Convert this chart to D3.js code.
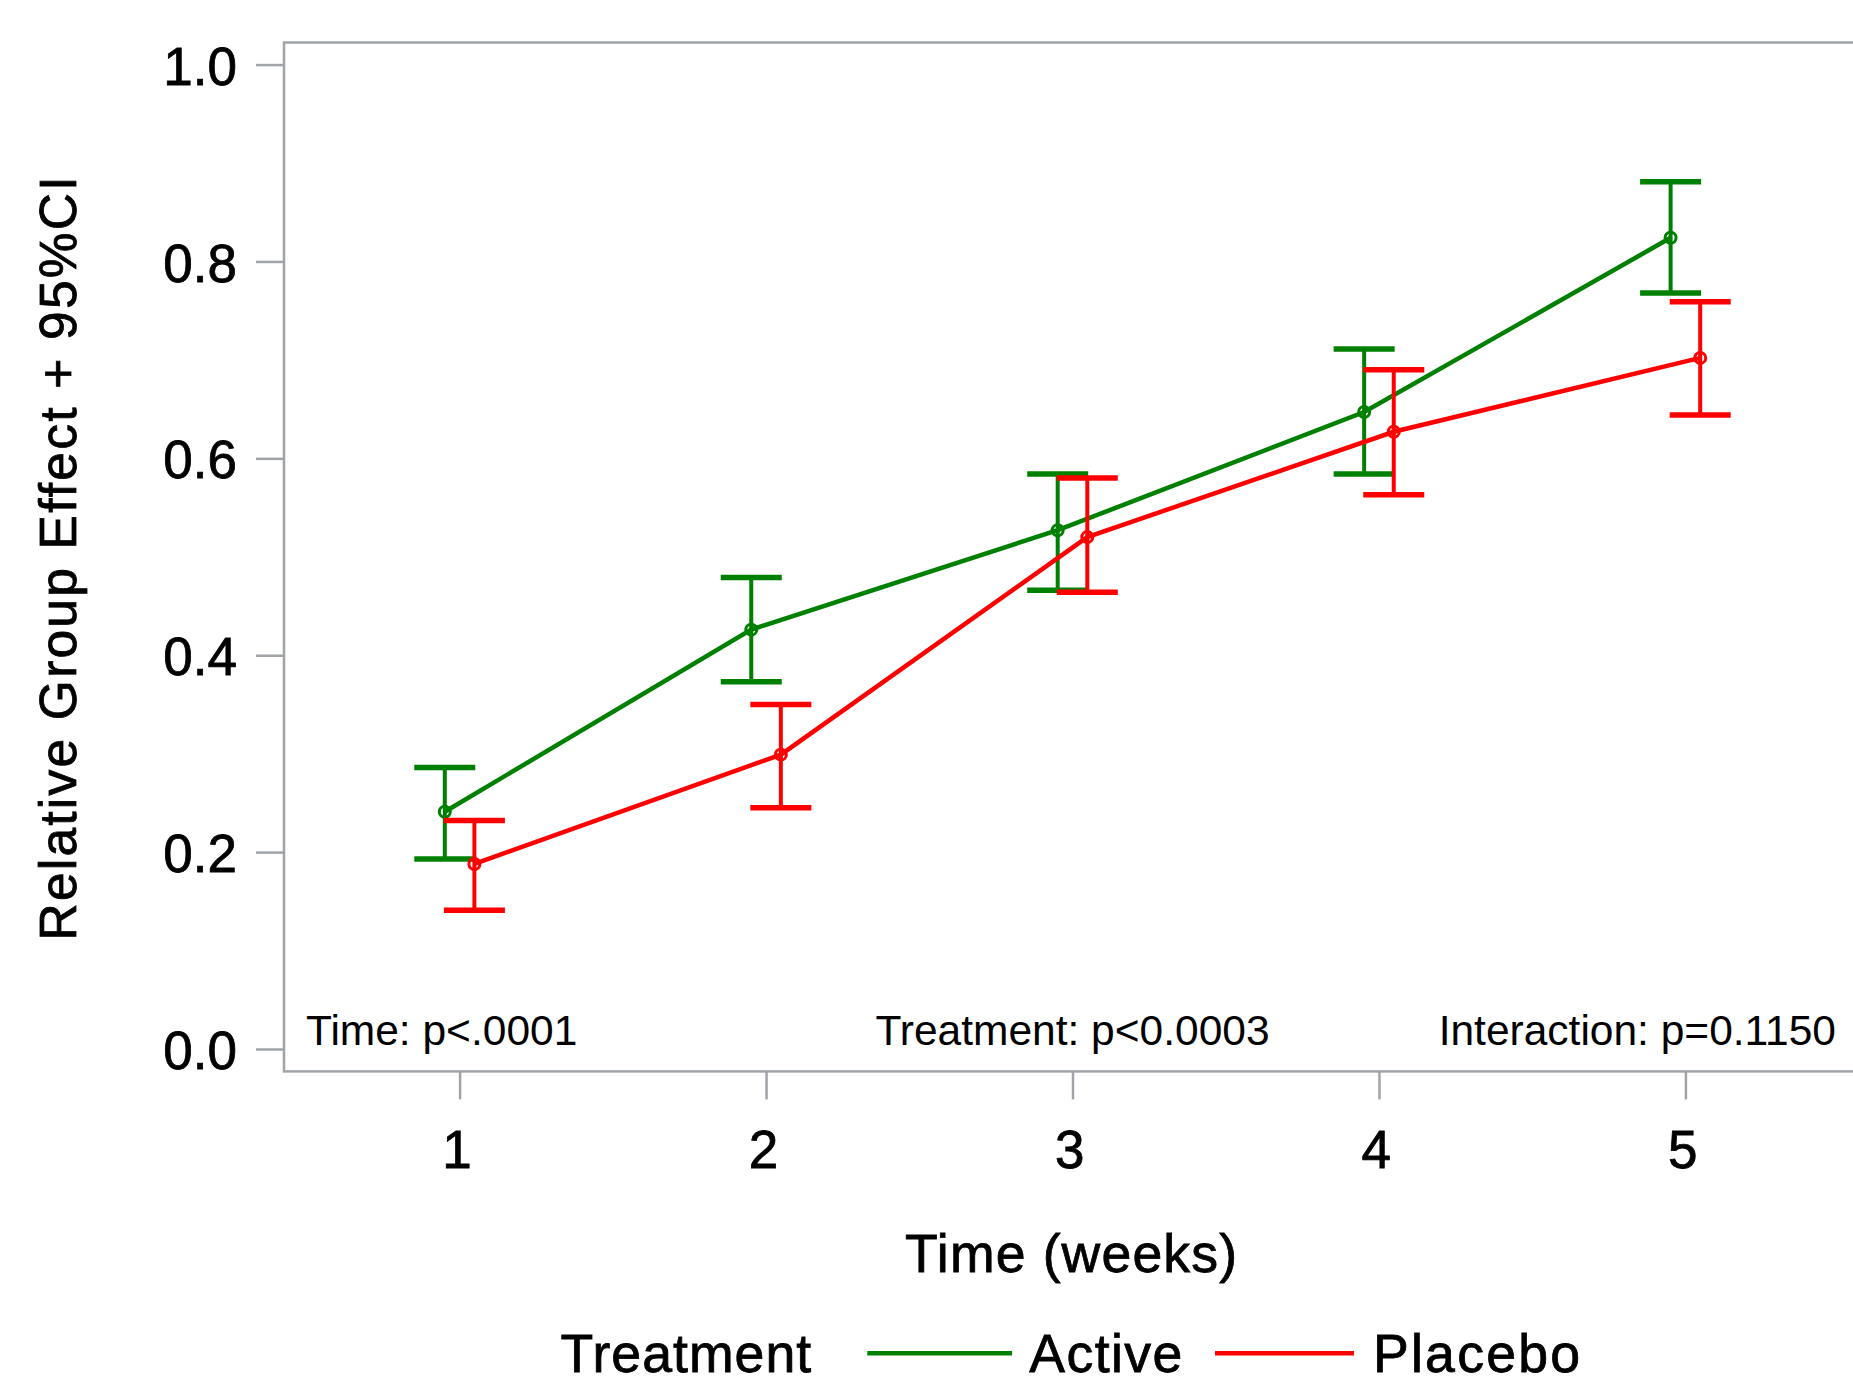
<!DOCTYPE html>
<html>
<head>
<meta charset="utf-8">
<script src="https://cdn.jsdelivr.net/npm/d3@7"></script>
<style>
  html, body { margin: 0; padding: 0; background: #fff; }
  svg { display: block; }
  text { font-family: "Liberation Sans", Arial, sans-serif; fill: #000; }
  .heavy { stroke: #000; stroke-width: 0.8px; }
</style>
</head>
<body>
<svg id="chart" width="1853" height="1385"></svg>
<script>
// Time points (weeks)
const weeks = [1, 2, 3, 4, 5];

// Active group: estimate and 95% CI
const activeMean  = [0.241, 0.426, 0.527, 0.647, 0.824];
const activeLower = [0.193, 0.373, 0.466, 0.584, 0.768];
const activeUpper = [0.286, 0.479, 0.584, 0.711, 0.881];

// Placebo group: estimate and 95% CI
const placeboMean  = [0.188, 0.299, 0.520, 0.627, 0.702];
const placeboLower = [0.141, 0.245, 0.464, 0.563, 0.644];
const placeboUpper = [0.232, 0.350, 0.580, 0.690, 0.759];

const yTicks = [0, 0.2, 0.4, 0.6, 0.8, 1.0];
const groupNames = ["Active", "Placebo"];
const groupColors = ["#008000", "#ff0000"];
const statLabels = ["Time: p<.0001", "Treatment: p<0.0003", "Interaction: p=0.1150"];

const svg = d3.select("#chart");

const frame = { left: 284, right: 1861, top: 42.5, bottom: 1071.4 };

const x = d3.scaleLinear().domain([0.427, 5.573]).range([frame.left, frame.right]);
const y = d3.scaleLinear().domain([-0.02275, 1.0224]).range([frame.bottom, frame.top]);

const gray = "#a0a4a8";
const clusterOffset = 0.0483; // horizontal shift of each group around the week position

// Axes
const yAxis = d3.axisLeft(y).tickValues(yTicks).tickFormat(d3.format(".1f"))
  .tickSize(28).tickPadding(19);
const gy = svg.append("g").attr("transform", `translate(${frame.left},0)`).call(yAxis);
gy.select(".domain").remove();
gy.selectAll(".tick line").attr("stroke", gray).attr("stroke-width", 2.5);
gy.selectAll(".tick text").attr("font-size", 53).attr("dy", "0.37em")
  .attr("class", "heavy")
  .style("font-family", "'Liberation Sans', Arial, sans-serif").attr("fill", "#000");

const xAxis = d3.axisBottom(x).tickValues(weeks).tickFormat(d3.format("d"))
  .tickSize(28).tickPadding(31);
const gx = svg.append("g").attr("transform", `translate(0,${frame.bottom})`).call(xAxis);
gx.select(".domain").remove();
gx.selectAll(".tick line").attr("stroke", gray).attr("stroke-width", 2.5);
gx.selectAll(".tick text").attr("font-size", 53).attr("dx", "-0.06em")
  .attr("class", "heavy")
  .style("font-family", "'Liberation Sans', Arial, sans-serif").attr("fill", "#000");

// Plot frame
svg.append("rect")
  .attr("x", frame.left).attr("y", frame.top)
  .attr("width", frame.right - frame.left).attr("height", frame.bottom - frame.top)
  .attr("fill", "none").attr("stroke", gray).attr("stroke-width", 2.5);

// Series
const groups = [
  { mean: activeMean, lower: activeLower, upper: activeUpper, shift: -clusterOffset },
  { mean: placeboMean, lower: placeboLower, upper: placeboUpper, shift: clusterOffset }
];

const plot = svg.append("g");
const capHalf = 30.5;

groups.forEach((g, gi) => {
  const color = groupColors[gi];
  const pts = weeks.map((w, i) => ({ w: w + g.shift, m: g.mean[i], lo: g.lower[i], hi: g.upper[i] }));
  const layer = plot.append("g");

  // error bars
  const eb = layer.selectAll(".eb").data(pts).join("g");
  eb.append("line")
    .attr("x1", d => x(d.w)).attr("x2", d => x(d.w))
    .attr("y1", d => y(d.lo)).attr("y2", d => y(d.hi))
    .attr("stroke", color).attr("stroke-width", 4);
  eb.append("line")
    .attr("x1", d => x(d.w) - capHalf).attr("x2", d => x(d.w) + capHalf)
    .attr("y1", d => y(d.hi)).attr("y2", d => y(d.hi))
    .attr("stroke", color).attr("stroke-width", 5.5);
  eb.append("line")
    .attr("x1", d => x(d.w) - capHalf).attr("x2", d => x(d.w) + capHalf)
    .attr("y1", d => y(d.lo)).attr("y2", d => y(d.lo))
    .attr("stroke", color).attr("stroke-width", 5.5);

  // connecting line
  layer.append("path")
    .datum(pts)
    .attr("d", d3.line().x(d => x(d.w)).y(d => y(d.m)))
    .attr("fill", "none").attr("stroke", color).attr("stroke-width", 4.5);

  // markers
  layer.selectAll("circle").data(pts).join("circle")
    .attr("cx", d => x(d.w)).attr("cy", d => y(d.m)).attr("r", 5.5)
    .attr("fill", "none").attr("stroke", color).attr("stroke-width", 3);
});

// Test results along the bottom of the plot
const statY = 1045.4;
svg.append("text").attr("x", frame.left + 22).attr("y", statY)
  .attr("font-size", 42.5).attr("text-anchor", "start").text(statLabels[0]);
svg.append("text").attr("x", (frame.left + frame.right) / 2).attr("y", statY)
  .attr("font-size", 42.5).attr("text-anchor", "middle").text(statLabels[1]);
svg.append("text").attr("x", frame.right - 25).attr("y", statY)
  .attr("font-size", 42.5).attr("text-anchor", "end").text(statLabels[2]);

// Axis titles
svg.append("text")
  .attr("class", "heavy")
  .attr("transform", "translate(76.3,558.5) rotate(-90)")
  .attr("text-anchor", "middle").attr("font-size", 51.5)
  .attr("textLength", 764).attr("lengthAdjust", "spacing")
  .text("Relative Group Effect + 95%CI");

svg.append("text")
  .attr("class", "heavy")
  .attr("x", 1071).attr("y", 1271.7)
  .attr("text-anchor", "middle").attr("font-size", 53.6)
  .attr("textLength", 332).attr("lengthAdjust", "spacing")
  .text("Time (weeks)");

// Legend
const legY = 1371.7;
svg.append("text").attr("class", "heavy").attr("x", 560.6).attr("y", legY).attr("font-size", 53.6)
  .attr("textLength", 250.6).attr("lengthAdjust", "spacing").text("Treatment");

const legendItems = [
  { x1: 867.3, x2: 1012.1, tx: 1029.3, tw: 153 },
  { x1: 1215, x2: 1354, tx: 1373, tw: 207 }
];
legendItems.forEach((it, i) => {
  svg.append("line").attr("x1", it.x1).attr("x2", it.x2)
    .attr("y1", legY - 18.5).attr("y2", legY - 18.5)
    .attr("stroke", groupColors[i]).attr("stroke-width", 4.5);
  svg.append("text").attr("class", "heavy").attr("x", it.tx).attr("y", legY).attr("font-size", 53.6)
    .attr("textLength", it.tw).attr("lengthAdjust", "spacing").text(groupNames[i]);
});
</script>
</body>
</html>
